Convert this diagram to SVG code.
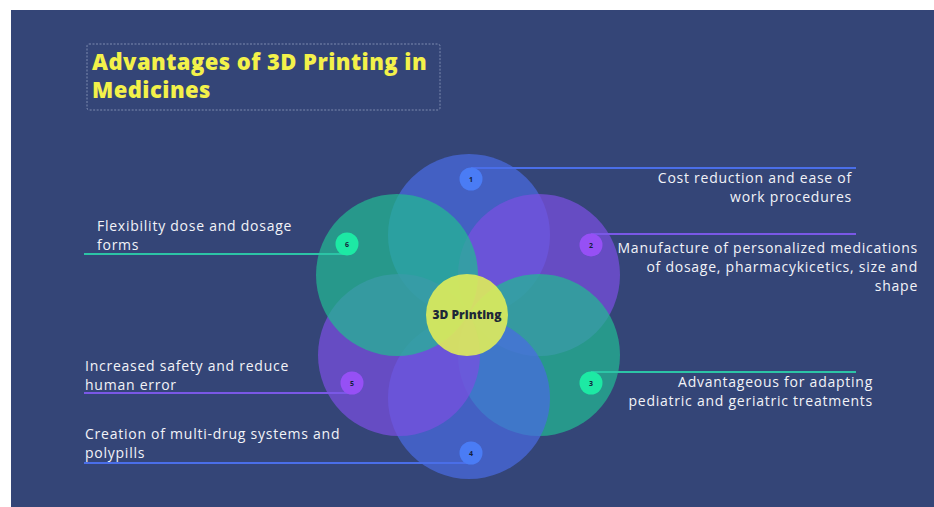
<svg xmlns="http://www.w3.org/2000/svg" width="934" height="507" viewBox="0 0 934 507">
  <style>
    .petal { opacity: 0.72; }
    .badge-num { font-family: "Open Sans", "Liberation Sans", sans-serif; font-size: 7px; font-weight: 700; fill: #14203a; text-anchor: middle; }
    .label { font-family: "Open Sans", "Liberation Sans", sans-serif; font-size: 14px; font-weight: 500; fill: #f2f3f8; letter-spacing: 0.75px; }
    .right { text-anchor: end; }
    .title { font-family: "Open Sans", "Liberation Sans", sans-serif; font-size: 22px; font-weight: 800; fill: #f3f14a; letter-spacing: 0.45px; }
    .lead { stroke-width: 2; fill: none; }
  </style>

  <!-- backdrop -->
  <rect x="0" y="0" width="934" height="507" fill="#ffffff"/>
  <rect x="11" y="10" width="923" height="497" fill="#344577"/>

  <!-- heading -->
  <g id="title">
    <rect x="87" y="44" width="353" height="66" rx="2" fill="none" stroke="#7d8bb0" stroke-width="1" stroke-dasharray="2 1.5"/>
    <text class="title" x="92" y="70">Advantages of 3D Printing in</text>
    <text class="title" x="92" y="98">Medicines</text>
  </g>

  <!-- petals around the core -->
  <g id="petals">
    <circle id="petal-1" class="petal" cx="469" cy="235" r="81" fill="#4a6be0"/>
    <circle id="petal-2" class="petal" cx="539" cy="275" r="81" fill="#7a4fe0"/>
    <circle id="petal-3" class="petal" cx="539" cy="355" r="81" fill="#22b993"/>
    <circle id="petal-4" class="petal" cx="469" cy="398" r="81" fill="#4a6be0"/>
    <circle id="petal-5" class="petal" cx="399" cy="355" r="81" fill="#7a4fe0"/>
    <circle id="petal-6" class="petal" cx="397" cy="275" r="81" fill="#22b993"/>
  </g>

  <!-- leader lines -->
  <g id="connectors">
    <line class="lead" x1="471" y1="168" x2="856" y2="168" stroke="#4a6ee8"/>
    <line class="lead" x1="591" y1="234" x2="856" y2="234" stroke="#7a58e6"/>
    <line class="lead" x1="591" y1="372" x2="856" y2="372" stroke="#2cc4a6"/>
    <line class="lead" x1="84" y1="463" x2="471" y2="463" stroke="#4a6ee8"/>
    <line class="lead" x1="84" y1="393" x2="352" y2="393" stroke="#7a58e6"/>
    <line class="lead" x1="84" y1="254" x2="347" y2="254" stroke="#2cc4a6"/>
  </g>

  <!-- core -->
  <g id="core">
    <circle cx="467" cy="315" r="41" fill="#dfec5a" opacity="0.9"/>
    <text x="467" y="319" font-family="Open Sans, Liberation Sans, sans-serif" font-size="12" font-weight="800" fill="#1e2838" text-anchor="middle">3D Printing</text>
  </g>

  <g id="node-1">
    <circle cx="471" cy="179" r="11.5" fill="#4a7cf5"/>
    <text class="badge-num" x="471" y="181.5">1</text>
    <text class="label right" x="852" y="183">Cost reduction and ease of</text>
    <text class="label right" x="852" y="202">work  procedures</text>
  </g>

  <g id="node-2">
    <circle cx="591" cy="245" r="11.5" fill="#9650f5"/>
    <text class="badge-num" x="591" y="247.5">2</text>
    <text class="label right" x="918" y="253">Manufacture of personalized medications</text>
    <text class="label right" x="918" y="272">of dosage, pharmacykicetics, size and</text>
    <text class="label right" x="918" y="291">shape</text>
  </g>

  <g id="node-3">
    <circle cx="591" cy="383" r="11.5" fill="#1de9a4"/>
    <text class="badge-num" x="591" y="385.5">3</text>
    <text class="label right" x="873" y="387">Advantageous for adapting</text>
    <text class="label right" x="873" y="406">pediatric and geriatric treatments</text>
  </g>

  <g id="node-4">
    <circle cx="471" cy="453" r="11.5" fill="#4a7cf5"/>
    <text class="badge-num" x="471" y="455.5">4</text>
    <text class="label" x="85" y="439">Creation of multi-drug systems and</text>
    <text class="label" x="85" y="458">polypills</text>
  </g>

  <g id="node-5">
    <circle cx="352" cy="383" r="11.5" fill="#9650f5"/>
    <text class="badge-num" x="352" y="385.5">5</text>
    <text class="label" x="85" y="371">Increased safety and reduce</text>
    <text class="label" x="85" y="390">human error</text>
  </g>

  <g id="node-6">
    <circle cx="347" cy="244" r="11.5" fill="#1de9a4"/>
    <text class="badge-num" x="347" y="246.5">6</text>
    <text class="label" x="97" y="231">Flexibility dose and dosage</text>
    <text class="label" x="97" y="250">forms</text>
  </g>
</svg>
